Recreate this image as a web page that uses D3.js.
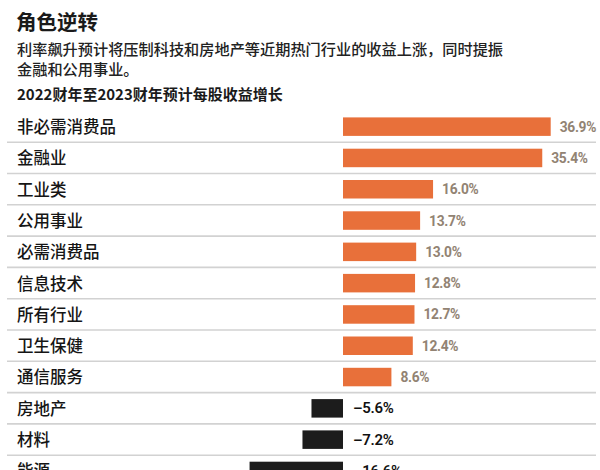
<!DOCTYPE html>
<html>
<head>
<meta charset="utf-8">
<script src="https://cdn.jsdelivr.net/npm/d3@7"></script>
<style>
  html, body { margin: 0; padding: 0; background: #fff; }
  svg { display: block; font-family: "Noto Sans CJK SC", "Noto Sans", sans-serif; }
</style>
</head>
<body>
<svg id="chart" width="600" height="470"></svg>
<script>
const title = "角色逆转";
const subtitleLines = ["利率飙升预计将压制科技和房地产等近期热门行业的收益上涨，同时提振", "金融和公用事业。"];
const chartTitle = "2022财年至2023财年预计每股收益增长";
const categories = ["非必需消费品", "金融业", "工业类", "公用事业", "必需消费品", "信息技术", "所有行业", "卫生保健", "通信服务", "房地产", "材料", "能源"];
const values = [36.9, 35.4, 16.0, 13.7, 13.0, 12.8, 12.7, 12.4, 8.6, -5.6, -7.2, -16.6];
const valueLabels = ["36.9%", "35.4%", "16.0%", "13.7%", "13.0%", "12.8%", "12.7%", "12.4%", "8.6%", "–5.6%", "–7.2%", "–16.6%"];

const svg = d3.select("#chart");

svg.append("text").attr("x", 16).attr("y", 30)
  .attr("font-size", 20.5).attr("font-weight", 700).attr("fill", "#1a1a1a").text(title);

svg.selectAll("text.sub").data(subtitleLines).join("text")
  .attr("class", "sub").attr("x", 17).attr("y", (d, i) => 55 + i * 20)
  .attr("font-size", 15.2).attr("font-weight", 500).attr("fill", "#222").text(d => d);

svg.append("text").attr("x", 17).attr("y", 100)
  .attr("font-size", 15).attr("font-weight", 700).attr("fill", "#1a1a1a").text(chartTitle);

const rowH = 31.3;
const plotTop = 111.4;
const y = d3.scaleBand().domain(categories).range([plotTop, plotTop + rowH * categories.length]).paddingInner(0).paddingOuter(0);
const x = d3.scaleLinear().domain([0, 36.9]).range([343, 550.7]);

const rows = svg.append("g").selectAll("g").data(categories).join("g")
  .attr("transform", d => `translate(0,${y(d)})`);

// separators
rows.append("line").attr("x1", 7).attr("x2", 596)
  .attr("y1", rowH - 0.5).attr("y2", rowH - 0.5)
  .attr("stroke", "#d2d2d2").attr("stroke-width", 1.6);

rows.append("text").attr("x", 17).attr("y", rowH / 2 + 6)
  .attr("font-size", 16.5).attr("font-weight", 500).attr("fill", "#151515").text(d => d);

const barH = 18.5;
rows.append("rect")
  .attr("x", (d, i) => Math.min(x(0), x(values[i])))
  .attr("y", 6)
  .attr("width", (d, i) => Math.abs(x(values[i]) - x(0)))
  .attr("height", barH)
  .attr("fill", (d, i) => values[i] >= 0 ? "#e8703a" : "#1c1c1c");

rows.append("text")
  .attr("x", (d, i) => values[i] >= 0 ? x(values[i]) + 9 : x(0) + 10)
  .attr("y", 6 + barH / 2 + 5)
  .attr("font-family", "Roboto, 'Noto Sans', sans-serif")
  .attr("font-size", (d, i) => values[i] >= 0 ? 13.8 : 15)
  .attr("font-weight", (d, i) => values[i] >= 0 ? 700 : 600)
  .attr("letter-spacing", -0.3)
  .attr("fill", (d, i) => values[i] >= 0 ? "#928373" : "#111")
  .text((d, i) => valueLabels[i]);
</script>
</body>
</html>
